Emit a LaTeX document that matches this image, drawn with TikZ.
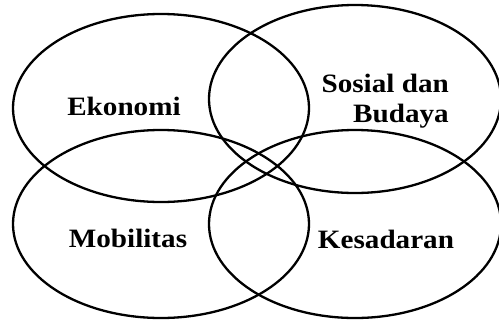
\documentclass[tikz,border=0pt]{standalone}
\usepackage{fontspec}
\setmainfont{Liberation Serif}
\usetikzlibrary{shapes.geometric}
\tikzset{
  venn/.style={draw=black, line width=2.3pt, ellipse, inner sep=0pt, minimum width=296pt, minimum height=188pt},
  lbl/.style={inner sep=0pt, font=\fontsize{26.5}{30}\selectfont\bfseries}
}
\newcommand{\wide}[1]{\scalebox{1.1}[1]{#1}}
\begin{document}
\begin{tikzpicture}[x=1pt, y=-1pt]
\useasboundingbox (0,0) rectangle (499,322);
\node[venn] (e1) at (161,108) {};
\node[venn, minimum width=292pt] (e2) at (355,99) {};
\node[venn] (e3) at (161,224) {};
\node[venn, minimum width=292pt] (e4) at (355,224) {};
\node[lbl, anchor=base] (eko) at (124,115) {\wide{Ekonomi}};
\node[lbl, anchor=base east] (sos) at (449,92) {\wide{Sosial dan}};
\node[lbl, anchor=base east] (bud) at (449,122) {\wide{Budaya}};
\node[lbl, anchor=base] (mob) at (128,247) {\wide{Mobilitas}};
\node[lbl, anchor=base] (kes) at (386,248) {\wide{Kesadaran}};
\end{tikzpicture}
\end{document}
